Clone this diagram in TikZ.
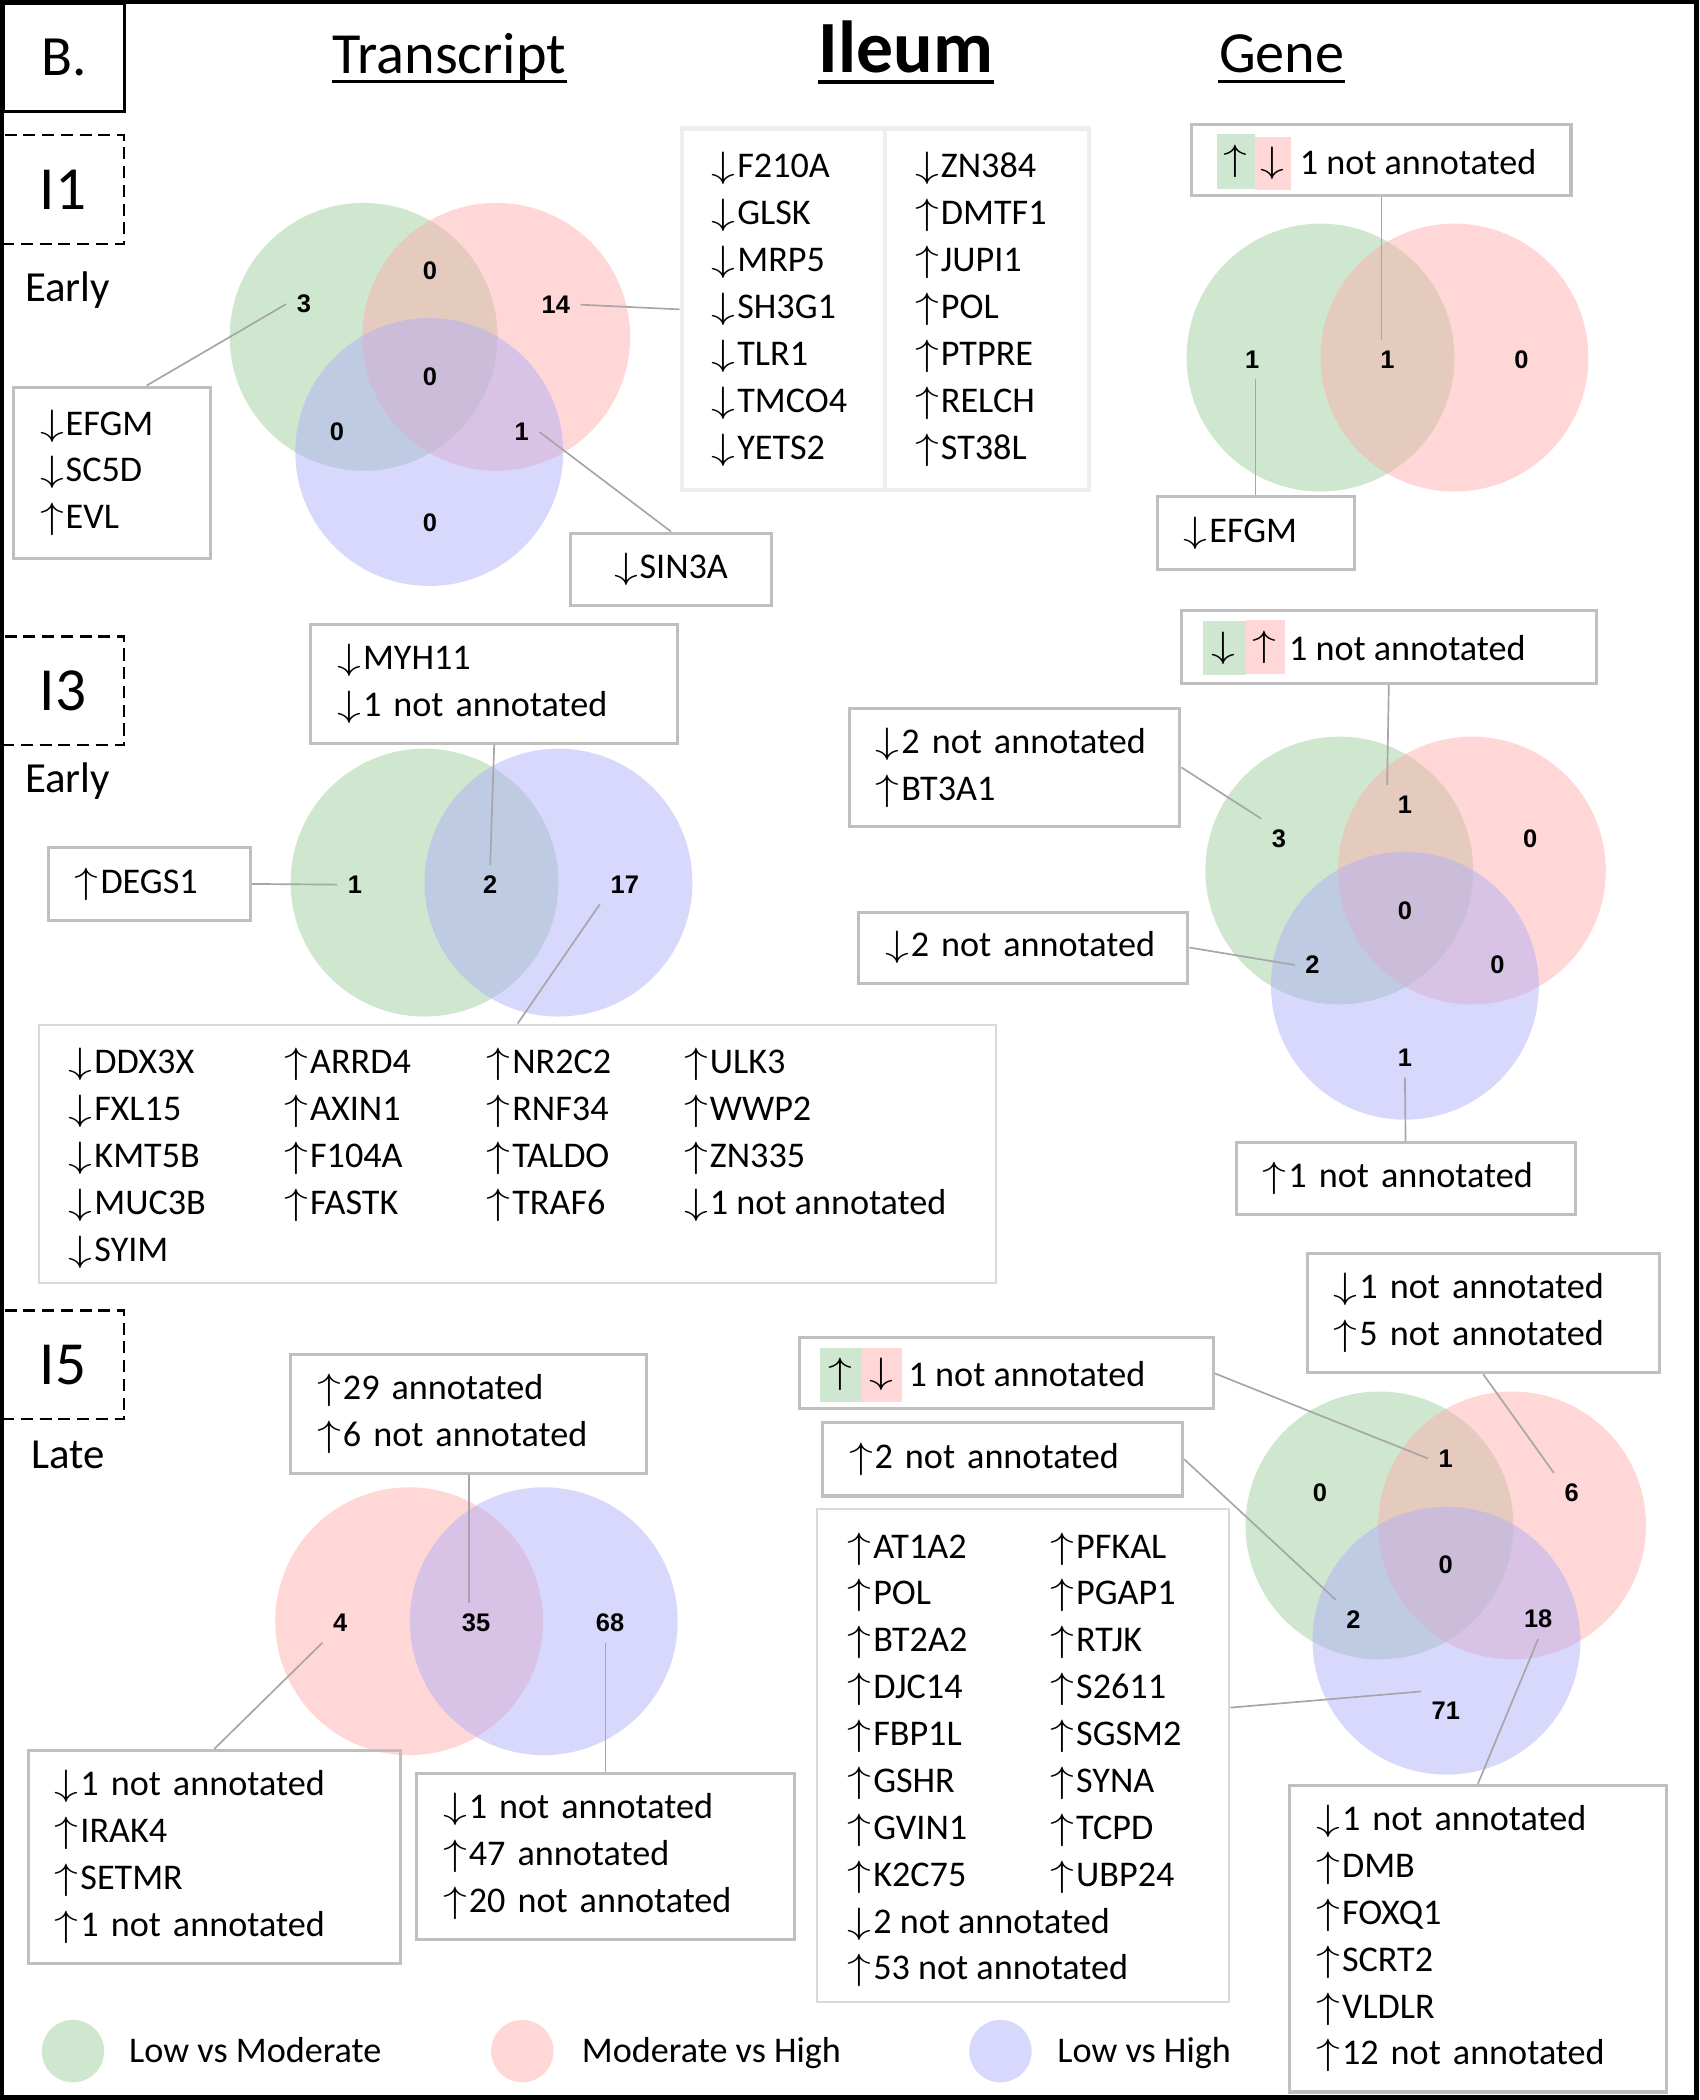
\documentclass[tikz,border=0pt]{standalone}
\usepackage{fontspec}
\usepackage{graphicx}
\setmainfont{Carlito}
\newfontfamily\numfont{Liberation Sans}
\usetikzlibrary{calc}
\definecolor{vgreen}{RGB}{155,203,155}
\definecolor{vred}{RGB}{255,172,172}
\definecolor{vblue}{RGB}{174,174,249}
\definecolor{pgreen}{RGB}{207,230,208}
\definecolor{pred}{RGB}{255,215,215}
\definecolor{boxgray}{RGB}{191,191,191}
\definecolor{listgray}{RGB}{217,217,217}
\definecolor{palegray}{RGB}{238,238,238}
\definecolor{leadgray}{RGB}{166,166,166}
\newcommand{\gtxt}{\fontsize{10.8}{14}\selectfont}
\newcommand{\upar}{\scalebox{1.3}[1]{$\uparrow$}\kern0.5pt}
\newcommand{\dnar}{\scalebox{1.3}[1]{$\downarrow$}\kern0.5pt}
\tikzset{
	venn/.style={fill opacity=0.48},
	num/.style={font=\numfont\bfseries\fontsize{7.6}{9}\selectfont, inner sep=3pt},
	lbox/.style={draw=boxgray, line width=0.9pt, inner xsep=8pt, inner ysep=0pt, align=left, font=\gtxt},
	listbox/.style={draw=listgray, line width=0.6pt, inner sep=0pt},
	col/.style={anchor=west, inner sep=0pt, align=left, font=\gtxt},
	patch/.style={inner sep=0pt, font=\gtxt},
	lead/.style={draw=leadgray, line width=0.5pt},
	secbox/.style={draw, dash pattern=on 3.6pt off 2pt, line width=0.7pt, minimum width=36.4pt, minimum height=32.4pt, inner sep=0pt, font=\fontsize{18.3}{20}\selectfont},
	tlab/.style={anchor=base, font=\fontsize{12.8}{15}\selectfont},
	ttl/.style={anchor=base, inner sep=0pt, font=\fontsize{17.4}{20}\selectfont},
	uline/.style={line width=0.8pt},
}

\begin{document}
\begin{tikzpicture}[x=0.4pt,y=-0.4pt]
	\useasboundingbox (0,0) rectangle (1269,1568);
	\draw[line width=1.4pt] (1.5,1.5) rectangle (1266.5,1566);
	% headings
	\node[draw, line width=0.8pt, minimum width=36pt, minimum height=32pt, inner sep=0pt, font=\fontsize{17}{20}\selectfont] (pB) at (48,43) {B.};
	\node[ttl] (hTr) at (335.5,54.6) {Transcript};
	\node[ttl, font=\fontsize{22}{26}\selectfont\bfseries] (hIl) at (676.5,54.3) {Ileum};
	\node[ttl] (hGe) at (957,54) {Gene};
	\draw[uline] ($(hTr.base west)+(0,6)$) -- ($(hTr.base east)+(0,6)$);
	\draw[uline, line width=1.2pt] ($(hIl.base west)+(0,7.2)$) -- ($(hIl.base east)+(0,7.2)$);
	\draw[uline] ($(hGe.base west)+(0,7)$) -- ($(hGe.base east)+(0,7)$);
	\node[secbox] (s1) at (47,141.5) {I1};
	\node[tlab] (t1) at (50.5,225) {Early};
	\node[secbox] (s3) at (47,515.7) {I3};
	\node[tlab] (t3) at (50.5,592) {Early};
	\node[secbox] (s5) at (47,1019) {I5};
	\node[tlab] (t5) at (50.6,1096.6) {Late};

	% I1 transcript
	\fill[venn, vgreen] (271.5,251.5) circle (100);
	\fill[venn, vred] (370.5,251.5) circle (100);
	\fill[venn, vblue] (320.5,337.5) circle (100);
	\node[num] (a3) at (227,227) {3};
	\node[num] (a0t) at (321,202) {0};
	\node[num] (a14) at (415,227.5) {14};
	\node[num] (a0c) at (321,281) {0};
	\node[num] (a0l) at (251.5,322.5) {0};
	\node[num] (a1) at (389.5,322.5) {1};
	\node[num] (a0b) at (321,390) {0};
	\node[lbox, text width=42.8pt, minimum height=51.2pt] (aL) at (83.5,353) {\dnar EFGM\\\dnar SC5D\\\upar EVL};
	\node[listbox, draw=palegray, line width=1.3pt, minimum width=121.6pt, minimum height=108pt] (aR) at (661,231) {};
	\draw[draw=palegray, line width=1.3pt] (aR.north) -- (aR.south);
	\node[col] (aR1) at (531,231) {\dnar F210A\\\dnar GLSK\\\dnar MRP5\\\dnar SH3G1\\\dnar TLR1\\\dnar TMCO4\\\dnar YETS2};
	\node[col] (aR2) at (683,231) {\dnar ZN384\\\upar DMTF1\\\upar JUPI1\\\upar POL\\\upar PTPRE\\\upar RELCH\\\upar ST38L};
	\node[lbox, align=center, text width=44pt, minimum height=21.6pt] (aS) at (501,425) {\dnar SIN3A};
	\draw[lead] (a3.west) -- ($(aL.north)+(26,0)$);
	\draw[lead] (a14.east) -- (aR.west);
	\draw[lead] (a1.east) -- (aS.north);

	% I1 gene
	\fill[venn, vgreen] (986,267) circle (100);
	\fill[venn, vred] (1086,267) circle (100);
	\node[num] (b1l) at (935,268.5) {1};
	\node[num] (b1m) at (1036,268.5) {1};
	\node[num] (b0) at (1136,268.5) {0};
	\node[lbox, minimum width=113.2pt, minimum height=21.2pt] (bT) at (1031.5,119.5) {};
	\node[patch, fill=pgreen, minimum width=11.2pt, minimum height=16.4pt] (bTg) at (923,120.5) {\upar};
	\node[patch, fill=pred, minimum width=10.8pt, minimum height=16pt] (bTr) at (950.5,122) {\dnar};
	\node[anchor=west, inner sep=0pt, font=\gtxt] (bTt) at (970,121) {1 not annotated};
	\node[lbox, text width=42.8pt, minimum height=21.6pt] (bE) at (937.5,398) {\dnar EFGM};
	\draw[lead] (bT.south) -- (bT.south |- b1m.north);
	\draw[lead] (bE.north |- b1l.south) -- (bE.north);

	% I3 transcript
	\fill[venn, vgreen] (317,659) circle (100);
	\fill[venn, vblue] (417,659) circle (100);
	\node[num] (c1) at (265,660.5) {1};
	\node[num] (c2) at (366,660.5) {2};
	\node[num] (c17) at (466.5,660.5) {17};
	\node[lbox, text width=93.6pt, minimum height=35.6pt] (cT) at (369,510.5) {\dnar MYH11\\\dnar 1 not annotated};
	\node[lbox, text width=44.4pt, minimum height=21.6pt] (cL) at (111.5,660) {\upar DEGS1};
	\node[listbox, minimum width=286pt, minimum height=77.2pt] (cB) at (386.5,861.5) {};
	\node[col] (cB1) at (51,865) {\dnar DDX3X\\\dnar FXL15\\\dnar KMT5B\\\dnar MUC3B\\\dnar SYIM};
	\node[col] (cB2) at (212,847.5) {\upar ARRD4\\\upar AXIN1\\\upar F104A\\\upar FASTK};
	\node[col] (cB3) at (363,847.5) {\upar NR2C2\\\upar RNF34\\\upar TALDO\\\upar TRAF6};
	\node[col] (cB4) at (510.5,847.5) {\upar ULK3\\\upar WWP2\\\upar ZN335\\\dnar 1 not annotated};
	\draw[lead] (cT.south) -- (c2.north);
	\draw[lead] (cL.east) -- (c1.west);
	\draw[lead] (c17.south west) -- (cB.north);

	% I3 gene
	\fill[venn, vgreen] (1000,650) circle (100);
	\fill[venn, vred] (1099,650) circle (100);
	\fill[venn, vblue] (1049,736) circle (100);
	\node[num] (d3) at (955,626) {3};
	\node[num] (d1t) at (1049,600.5) {1};
	\node[num] (d0r) at (1142.5,626) {0};
	\node[num] (d0c) at (1049,680) {0};
	\node[num] (d2) at (980,720.5) {2};
	\node[num] (d0b) at (1118,720.5) {0};
	\node[num] (d1b) at (1049,790) {1};
	\node[lbox, minimum width=124pt, minimum height=21.6pt] (dT) at (1037,483) {};
	\node[patch, fill=pgreen, minimum width=12.7pt, minimum height=16.2pt] (dTg) at (914.4,484) {\dnar};
	\node[patch, fill=pred, minimum width=11.8pt, minimum height=16pt] (dTr) at (945,483) {\upar};
	\node[anchor=west, inner sep=0pt, font=\gtxt] (dTt) at (962,484) {1 not annotated};
	\node[lbox, text width=82.8pt, minimum height=35.2pt] (dL) at (757.5,573) {\dnar 2 not annotated\\\upar BT3A1};
	\node[lbox, text width=82.4pt, minimum height=21.2pt] (dM) at (764,707.5) {\dnar 2 not annotated};
	\node[lbox, text width=85.2pt, minimum height=21.6pt] (dB) at (1049.5,880) {\upar 1 not annotated};
	\draw[lead] (dT.south) -- (d1t.north west);
	\draw[lead] (dL.east) -- (d3.north west);
	\draw[lead] (dM.east) -- (d2.west);
	\draw[lead] (dB.north) -- (d1b.south);

	% I5 transcript
	\fill[venn, vred] (305.5,1210.5) circle (100);
	\fill[venn, vblue] (406,1210.5) circle (100);
	\node[num] (e4) at (254,1212) {4};
	\node[num] (e35) at (355.5,1212) {35};
	\node[num] (e68) at (455.5,1212) {68};
	\node[lbox, text width=90.4pt, minimum height=35.6pt] (eT) at (350,1055.5) {\upar 29 annotated\\\upar 6 not annotated};
	\node[lbox, text width=95.2pt, minimum height=63.6pt] (eL) at (160,1386.5) {\dnar 1 not annotated\\\upar IRAK4\\\upar SETMR\\\upar 1 not annotated};
	\node[lbox, text width=96.8pt, minimum height=49.6pt] (eR) at (452,1386) {\dnar 1 not annotated\\\upar 47 annotated\\\upar 20 not annotated};
	\draw[lead] (eT.south) -- (eT.south |- e35.north);
	\draw[lead] (e4.south west) -- (eL.north);
	\draw[lead] (eR.north |- e68.south) -- (eR.north);

	% I5 gene
	\fill[venn, vgreen] (1030,1139) circle (100);
	\fill[venn, vred] (1129,1139) circle (100);
	\fill[venn, vblue] (1080,1225) circle (100);
	\node[num] (f0l) at (985.5,1114.5) {0};
	\node[num] (f1) at (1079.5,1089) {1};
	\node[num] (f6) at (1173.5,1114.5) {6};
	\node[num] (f0c) at (1079.5,1168.5) {0};
	\node[num] (f2) at (1010.5,1209) {2};
	\node[num] (f18) at (1148.5,1209) {18};
	\node[num] (f71) at (1079.5,1277.5) {71};
	\node[lbox, text width=89.2pt, minimum height=35.6pt] (fT) at (1107.5,980.5) {\dnar 1 not annotated\\\upar 5 not annotated};
	\node[lbox, minimum width=123.6pt, minimum height=21.2pt] (fP) at (751.5,1025.5) {};
	\node[patch, fill=pgreen, minimum width=12.7pt, minimum height=16.1pt] (fPg) at (628,1026.5) {\upar};
	\node[patch, fill=pred, minimum width=11.9pt, minimum height=16.1pt] (fPr) at (658.7,1026.5) {\dnar};
	\node[anchor=west, inner sep=0pt, font=\gtxt] (fPt) at (678,1026) {1 not annotated};
	\node[lbox, text width=91.6pt, minimum height=22pt] (fM) at (748.5,1089.5) {\upar 2 not annotated};
	\node[listbox, minimum width=123.2pt, minimum height=147.2pt] (fL) at (764,1311) {};
	\node[col] (fL1) at (632.5,1314) {\upar AT1A2\\\upar POL\\\upar BT2A2\\\upar DJC14\\\upar FBP1L\\\upar GSHR\\\upar GVIN1\\\upar K2C75\\\dnar 2 not annotated\\\upar 53 not annotated};
	\node[col] (fL2) at (784,1279) {\upar PFKAL\\\upar PGAP1\\\upar RTJK\\\upar S2611\\\upar SGSM2\\\upar SYNA\\\upar TCPD\\\upar UBP24};
	\node[lbox, text width=96.4pt, minimum height=91.6pt] (fB) at (1103.5,1447.5) {\dnar 1 not annotated\\\upar DMB\\\upar FOXQ1\\\upar SCRT2\\\upar VLDLR\\\upar 12 not annotated};
	\draw[lead] (fT.south) -- (f6.north west);
	\draw[lead] (fP.east) -- (f1.west);
	\draw[lead] (fM.east) -- (f2.north west);
	\draw[lead] ($(fL.east)+(0,-36)$) -- (f71.north west);
	\draw[lead] (f18.south) -- (fB.north);

	% legend
	\fill[venn, vgreen] (54.5,1531.5) circle (23.3);
	\node[anchor=base west, inner sep=0pt, font=\gtxt] (lg1) at (96,1540) {Low vs Moderate};
	\fill[venn, vred] (390,1531.5) circle (23.3);
	\node[anchor=base west, inner sep=0pt, font=\gtxt] (lg2) at (434,1540) {Moderate vs High};
	\fill[venn, vblue] (747,1531.5) circle (23.3);
	\node[anchor=base west, inner sep=0pt, font=\gtxt] (lg3) at (789,1540) {Low vs High};
\end{tikzpicture}
\end{document}
